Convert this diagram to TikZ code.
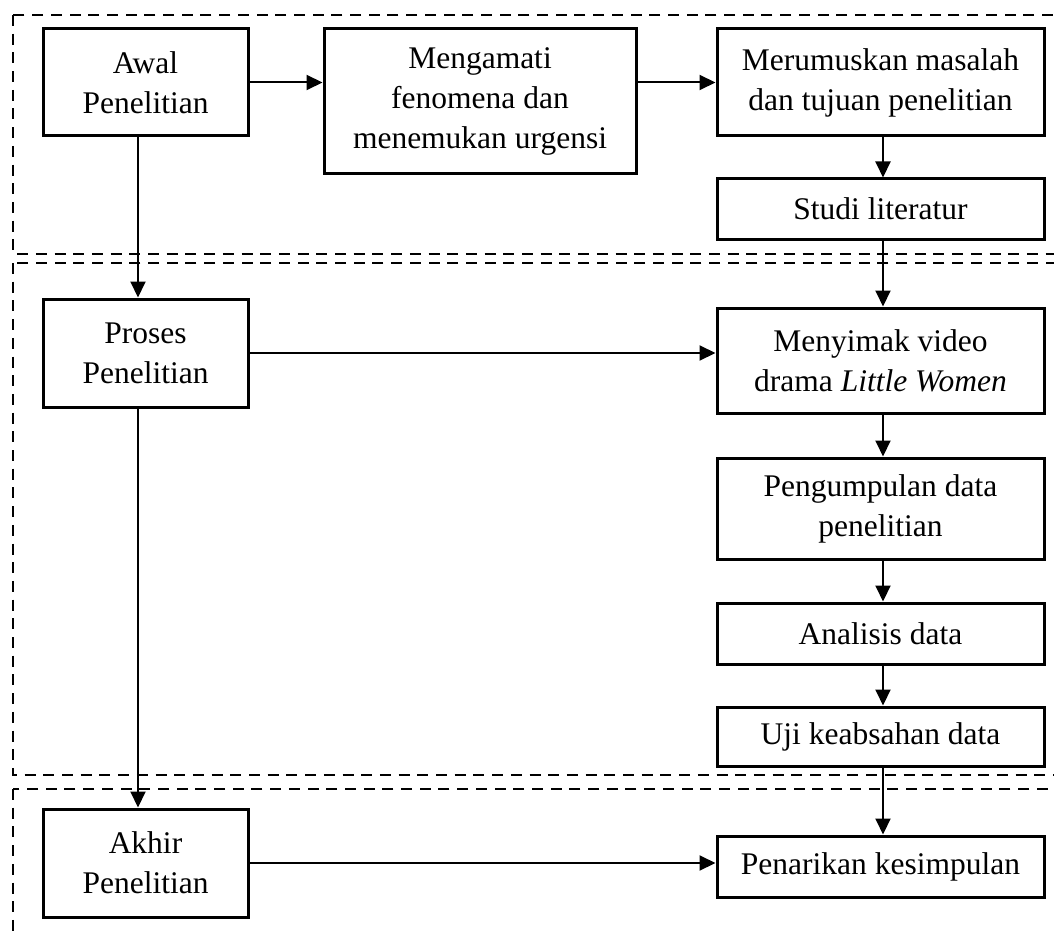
\documentclass[tikz,border=0pt]{standalone}
\usepackage{fontspec}
\setmainfont{Liberation Serif}
\usetikzlibrary{arrows.meta,calc}
\begin{document}
\begin{tikzpicture}[x=1pt,y=-1pt,
  box/.style={draw,line width=3pt,inner sep=0pt,align=center,
    font=\fontsize{31.5}{40}\selectfont},
  arr/.style={line width=2pt,-{Triangle[length=16pt,width=15pt]}},
  zone/.style={draw,line width=2.8pt,dash pattern=on 11pt off 7.7pt}]
\useasboundingbox (0,0) rectangle (1054,936);
\clip (0,0) rectangle (1054,936);
% dashed zones
\draw[zone] (13,15) rectangle (1070,254);
\draw[zone] (13,263) rectangle (1070,775);
\draw[zone] (13,789) rectangle (1070,960);
% nodes
\node[box,minimum width=205pt,minimum height=107pt] (awal) at (145.5,82.5) {Awal\\Penelitian};
\node[box,minimum width=312pt,minimum height=145pt] (meng) at (480,101.5) {Mengamati\\fenomena dan\\menemukan urgensi};
\node[box,minimum width=327pt,minimum height=107pt] (merum) at (880.5,82.5) {Merumuskan masalah\\dan tujuan penelitian};
\node[box,minimum width=327pt,minimum height=60pt] (studi) at (880.5,209) {Studi literatur};
\node[box,minimum width=205pt,minimum height=108pt] (proses) at (145.5,353) {Proses\\Penelitian};
\node[box,minimum width=327pt,minimum height=105pt] (menyimak) at (880.5,360.5) {Menyimak video\\drama \textit{Little Women}};
\node[box,minimum width=327pt,minimum height=101pt] (pengum) at (880.5,508.5) {Pengumpulan data\\penelitian};
\node[box,minimum width=327pt,minimum height=61pt] (analisis) at (880.5,633.5) {Analisis data};
\node[box,minimum width=327pt,minimum height=59pt] (uji) at (880.5,736.5) {Uji keabsahan data};
\node[box,minimum width=205pt,minimum height=108pt] (akhir) at (145.5,863) {Akhir\\Penelitian};
\node[box,minimum width=327pt,minimum height=61pt] (tarik) at (880.5,866.5) {Penarikan kesimpulan};
\coordinate (lx) at (138,0);
\coordinate (rx) at (883,0);
% connectors
\draw[arr] (awal.east) -- (awal.east -| meng.west);
\draw[arr] (merum.west -| meng.east) -- (merum.west);
\draw[arr] (rx |- merum.south) -- (rx |- studi.north);
\draw[arr] (rx |- studi.south) -- (rx |- menyimak.north);
\draw[arr] (rx |- menyimak.south) -- (rx |- pengum.north);
\draw[arr] (rx |- pengum.south) -- (rx |- analisis.north);
\draw[arr] (rx |- analisis.south) -- (rx |- uji.north);
\draw[arr] (rx |- uji.south) -- (rx |- tarik.north);
\draw[arr] (lx |- awal.south) -- (lx |- proses.north);
\draw[arr] (lx |- proses.south) -- (lx |- akhir.north);
\draw[arr] (proses.east) -- (proses.east -| menyimak.west);
\draw[arr] (akhir.east) -- (akhir.east -| tarik.west);
\end{tikzpicture}
\end{document}
